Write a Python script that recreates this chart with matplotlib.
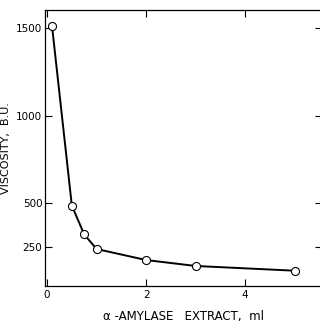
import matplotlib.pyplot as plt

# alpha-amylase extract (ml) vs viscosity (B.U.)
extract_ml = [0.1, 0.5, 0.75, 1.0, 2.0, 3.0, 5.0]
viscosity_bu = [1510, 485, 320, 237, 174, 140, 113]

x_ticks = [0, 2, 4]
y_ticks = [250, 500, 1000, 1500]

fig = plt.figure(figsize=(3.2, 3.24), dpi=100)
ax = fig.add_axes([0.141, 0.117, 0.866, 0.852])

ax.plot(extract_ml, viscosity_bu, color='black', linewidth=1.4, zorder=2)
ax.plot(extract_ml, viscosity_bu, 'o', ms=5.8, mfc='white', mec='black', mew=0.8, zorder=3)

ax.set_xlim(-0.04, 5.56)
ax.set_ylim(25, 1603)
ax.set_xticks(x_ticks)
ax.set_yticks(y_ticks)
ax.tick_params(direction='in', length=5, width=0.8, labelsize=7.5, pad=2,
               top=True, right=True)
ax.tick_params(axis='x', pad=3)

for side in ['left', 'top', 'bottom']:
    ax.spines[side].set_linewidth(0.9)
ax.spines['right'].set_visible(False)

ax.set_ylabel('VISCOSITY,  B.U.', fontsize=8, labelpad=4)
ax.set_xlabel('α -AMYLASE   EXTRACT,  ml', fontsize=8.5, labelpad=7)

fig.savefig('out.png', dpi=100)
